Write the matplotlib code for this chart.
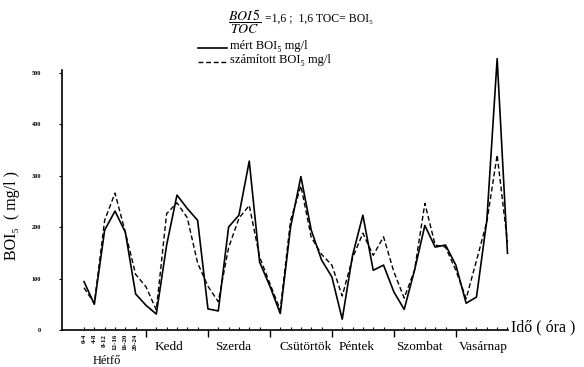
import numpy as np
import matplotlib.pyplot as plt
from matplotlib.lines import Line2D

plt.rcParams['font.family'] = ['Liberation Serif', 'DejaVu Serif']
plt.rcParams['mathtext.fontset'] = 'stix'

# measured and calculated BOI5 (mg/l), 6 samples per day, Monday..Sunday
mert = [94, 50, 194, 231, 190, 70,
        48, 31, 165, 262, 236, 213,
        41, 37, 200, 223, 328, 132,
        85, 32, 200, 298, 194, 136,
        103, 21, 145, 223, 116, 126,
        74, 40, 116, 203, 161, 165,
        126, 52, 64, 213, 527, 149]
szamitott = [82, 52, 213, 266, 190, 108,
             84, 39, 226, 247, 218, 130,
             85, 55, 160, 217, 242, 142,
             90, 39, 213, 280, 180, 147,
             126, 66, 140, 188, 145, 181,
             113, 62, 116, 246, 165, 161,
             116, 61, 135, 210, 340, 170]
napok = ['Hétfő', 'Kedd', 'Szerda', 'Csütörtök', 'Péntek', 'Szombat', 'Vasárnap']
orak = ['0-4', '4-8', '8-12', '12-16', '16-20', '20-24']
y_ticks = [0, 100, 200, 300, 400, 500]

x = np.arange(len(mert))

fig = plt.figure(figsize=(5.84, 3.67), dpi=100)
ax = fig.add_axes([62 / 584, 1 - 330 / 367, 446 / 584, 260 / 367])

ax.plot(x, mert, color='black', lw=1.2, clip_on=False)
ax.plot(x, szamitott, color='black', lw=1.0, ls=(0, (3.5, 2)), clip_on=False)

ax.set_xlim(-2.13, 41.05)
ax.set_ylim(0, 505)
ax.spines['top'].set_visible(False)
ax.spines['right'].set_visible(False)
ax.spines['left'].set_linewidth(1.2)
ax.spines['bottom'].set_linewidth(1.2)

ax.set_yticks(y_ticks)
ax.set_yticklabels([str(v) for v in y_ticks], fontsize=4.5, fontweight='bold')
ax.tick_params(axis='y', length=2, pad=13)

# day boundaries as major ticks, each sample as a minor tick
ax.set_xticks(np.arange(6, len(mert), 6))
ax.set_xticklabels([])
ax.tick_params(axis='x', which='major', length=5, width=1.0, direction='out')
ax.set_xticks(x, minor=True)
ax.tick_params(axis='x', which='minor', length=2, width=0.8, direction='in')

# hour labels under Monday
for i, lab in enumerate(orak):
    ax.text(i, -8, lab, rotation=90, fontsize=5, fontweight='bold',
            ha='center', va='top')

offsets = [2.2, 2.2, 2.4, 3.5, 2.4, 2.5, 2.7]
for d, nap in enumerate(napok):
    if d == 0:
        ax.text(offsets[d], -60, nap, fontsize=9, ha='center', va='center')
    else:
        ax.text(6 * d + offsets[d], -33, nap, fontsize=9.5, ha='center', va='center')

ax.set_ylabel('BOI\u2085  ( mg/l )', fontsize=11.5)
ax.yaxis.set_label_coords(-0.095, 0.44)
fig.text(511 / 584, 1 - 327 / 367, 'Idő ( óra )', fontsize=11.5, va='center', ha='left')

# formula at top
fig.text(228 / 584, 1 - 22 / 367, r'$\dfrac{BOI\,5}{TOC}$', fontsize=10, va='center', ha='left')
fig.text(265 / 584, 1 - 19 / 367, '=1,6 ;  1,6 TOC= BOI\u2085', fontsize=8.5, va='center', ha='left')

# legend drawn by hand: line sample + label
leg_items = [('mért BOI\u2085 mg/l', '-', 1.2, 47),
             ('számított BOI\u2085 mg/l', (0, (3.5, 2)), 1.0, 61)]
for lab, ls, lw, yy in leg_items:
    fy = 1 - (yy + 1) / 367
    fig.add_artist(Line2D([198 / 584, 227 / 584], [fy, fy], color='black', lw=lw, ls=ls))
    fig.text(230 / 584, 1 - (yy - 1) / 367, lab, fontsize=9, va='center', ha='left')

fig.savefig('out.png', dpi=100)
